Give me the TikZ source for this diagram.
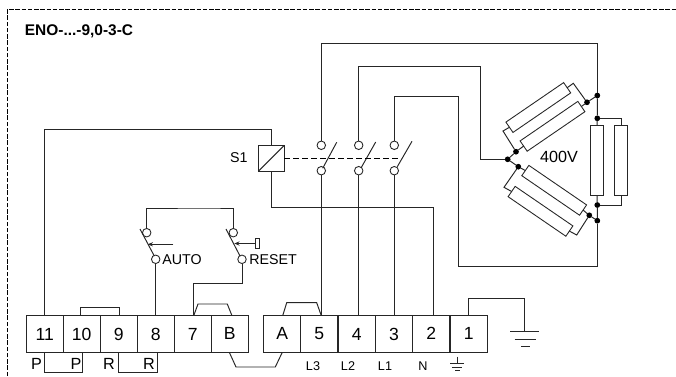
\documentclass[tikz,border=0pt]{standalone}
\usepackage{fontspec}
\setmainfont{Liberation Sans}
\usetikzlibrary{calc}
\usetikzlibrary{arrows.meta}
\newcommand{\lowdigit}[1]{\raisebox{-0.8pt}{#1}}
\newcommand{\highdigit}[1]{\raisebox{0.6pt}{#1}}
\tikzset{
    wire/.style={line width=0.55pt, draw=black!85},
    termbox/.style={draw=black!85, line width=0.6pt, minimum width=0.74cm, minimum height=0.732cm, inner sep=0pt, outer sep=0pt, font=\fontsize{10}{12}\selectfont},
    contact/.style={circle, draw=black!85, fill=white, line width=0.5pt, minimum size=0.17cm, inner sep=0pt, outer sep=0pt},
    joint/.style={circle, fill=black, minimum size=0.115cm, inner sep=0pt, outer sep=0pt},
    tube/.style={draw=black!85, fill=white, line width=0.5pt, minimum width=1.4cm, minimum height=0.25cm, inner sep=0pt, outer sep=0pt},
    lbl/.style={inner sep=0pt, font=\fontsize{8.1}{10}\selectfont},
    pin/.style={inner sep=0pt, font=\fontsize{9.2}{11}\selectfont},
    phase/.style={inner sep=0pt, font=\fontsize{7.2}{9}\selectfont}
}
\begin{document}
\begin{tikzpicture}[x=0.02cm, y=-0.02cm]
        \useasboundingbox (0,0) rectangle (676,376);

        % Frame, open at the right and at the bottom
        \coordinate (frameA) at (7,376);
        \coordinate (frameB) at (7,9.5);
        \coordinate (frameC) at (676,9.5);
        \draw[line width=0.5pt, dash pattern=on 0.09cm off 0.035cm] (frameA) -- (frameB) -- (frameC);
        \node[anchor=west, inner sep=0pt, font=\bfseries\fontsize{8.8}{10}\selectfont] (title) at (24.5,31) {ENO-...-9,0-3-C};

        % Terminal strip
        \node[termbox] (t11) at (44.7,334) {\lowdigit{11}};
        \node[termbox] (t10) at (81.7,334) {\lowdigit{10}};
        \node[termbox] (t9) at (118.7,334) {\lowdigit{9}};
        \node[termbox] (t8) at (155.8,334) {\lowdigit{8}};
        \node[termbox] (t7) at (192.8,334) {\lowdigit{7}};
        \node[termbox] (tB) at (229.7,334) {\highdigit{B}};
        \node[termbox] (tA) at (282.2,334) {\highdigit{A}};
        \node[termbox] (t5) at (319.3,334) {\lowdigit{5}};
        \node[termbox] (t4) at (356.7,334) {\lowdigit{4}};
        \node[termbox] (t3) at (394,334) {\lowdigit{3}};
        \node[termbox] (t2) at (431.3,334) {\highdigit{2}};
        \node[termbox] (t1) at (468.7,334) {\highdigit{1}};

        % Labels under the strip
        \node[pin] (p1) at (36.5,364) {P};
        \node[pin] (p2) at (76,364) {P};
        \node[pin] (r1) at (109,364) {R};
        \node[pin] (r2) at (149,364) {R};
        \node[phase] (l3) at (313,366) {L3};
        \node[phase] (l2) at (348,366) {L2};
        \node[phase] (l1) at (385,366) {L1};
        \node[phase] (ln) at (423,366) {N};

        % Loops under the strip
        \coordinate (pa) at (44.3,372.7);
        \coordinate (pb) at (82.7,372.7);
        \coordinate (ra) at (118.3,372.7);
        \coordinate (rb) at (157,372.7);
        \draw[wire] (pa |- t11.south) -- (pa) -- (pb) -- (pb |- t10.south);
        \draw[wire] (ra |- t9.south) -- (ra) -- (rb) -- (rb |- t8.south);

        % Links above and under the strip
        \draw[wire] ($(t10.north)+(-1.4,0)$) -- ++(0,-8.4) -| ($(t9.north)+(0.3,0)$);
        \draw[wire] (193.7,315.7) -- (198,304) -- (227.3,304) -- (232,315.7);
        \draw[wire] (229.3,352.3) -- (236,367) -- (275.3,367) -- (282.3,352.3);
        \draw[wire] (282.7,315.7) -- (286.7,302.7) -- (316.7,302.7) -- (321.3,315.7);

        % Coil and its feed
        \node[draw=black!85, line width=0.6pt, minimum size=0.52cm, inner sep=0pt, outer sep=0pt] (coil) at (271.3,158.3) {};
        \node[lbl, anchor=east] (s1) at (248,158) {S1};
        \draw[wire] (coil.south west) -- (coil.north east);
        \draw[wire] (t11.north) -- (t11.north |- 0,129) -| (coil.north);
        \draw[wire] (coil.south) |- (433,207.7) -- (433,315.7);

        % Main contacts
        \node[contact] (c3a) at (321.3,145.3) {};
        \node[contact] (c3b) at (321.3,170.7) {};
        \node[contact] (c2a) at (358.7,145.3) {};
        \node[contact] (c2b) at (358.7,170.7) {};
        \node[contact] (c1a) at (394.3,145.3) {};
        \node[contact] (c1b) at (394.3,170.7) {};
        \draw[wire] (322.7,168.3) -- (336.7,142.3);
        \draw[wire] (361,168) -- (375.7,142);
        \draw[wire] (397.3,166.7) -- (412,141.3);
        \draw[line width=0.5pt, dash pattern=on 0.12cm off 0.06cm] (coil.east) -- (399,158.3);
        \draw[wire] (c3b.south) -- (c3b |- t5.north);
        \draw[wire] (c2b.south) -- (c2b |- t4.north);
        \draw[wire] (c1b.south) -- (c1b |- t3.north);

        % Auto and reset switches
        \node[contact] (aut1) at (146.7,232.7) {};
        \node[contact] (aut2) at (155.7,259.3) {};
        \node[contact] (res1) at (233.3,232.7) {};
        \node[contact] (res2) at (242,259.3) {};
        \node[lbl, anchor=west] (auto) at (162,259.3) {AUTO};
        \node[lbl, anchor=west] (reset) at (249,259.3) {RESET};
        \draw[wire] (140,229) -- (154.3,256);
        \draw[wire] (226,229) -- (240,256);
        \draw[wire] (aut1.north) |- (208,208) -| (res1.north);
        \draw[wire] (aut2.south) -- (aut2 |- t8.north);
        \draw[wire] (res2.south) |- (193.7,283.3) -- (193.7,315.7);
        \node[draw=black!85, line width=0.5pt, minimum width=0.09cm, minimum height=0.19cm, inner sep=0pt, outer sep=0pt] (btn) at (257.2,243.5) {};
        \draw[wire, -{Stealth[length=3pt,width=2.4pt]}] (btn.west) -- (234.3,243.5);
        \draw[wire, -{Stealth[length=3pt,width=2.4pt]}] (173.3,244.3) -- (147.7,244.3);

        % Lamps
        \node[tube, rotate=34.4] (lampA) at (538.3,107.5) {};
        \node[tube, rotate=34.4] (lampB) at (552.5,126.3) {};
        \node[tube, rotate=-34.4] (lampC) at (554.2,190.3) {};
        \node[tube, rotate=-34.4] (lampD) at (540.5,211.3) {};
        \node[tube, rotate=90] (lampE) at (597,160.3) {};
        \node[tube, rotate=90] (lampF) at (621,160.3) {};
        \node[lbl, font=\fontsize{9.2}{11}\selectfont] (volt) at (559,156.7) {400V};

        % Lamp joints
        \node[joint] (ja) at (507.7,159.3) {};
        \node[joint] (jb) at (516,151.7) {};
        \node[joint] (jc) at (518.3,166.7) {};
        \node[joint] (jd) at (587,102.3) {};
        \node[joint] (je) at (597.3,95.5) {};
        \node[joint] (jf) at (597.3,118.3) {};
        \node[joint] (jg) at (597.3,205) {};
        \node[joint] (jh) at (597.3,220.7) {};
        \node[joint] (ji) at (589.3,215.3) {};

        % Lamp wiring
        \coordinate (bendA) at (503,131);
        \coordinate (bendB) at (573.3,83.3);
        \coordinate (bendC) at (504,187.3);
        \coordinate (bendD) at (576.7,235);
        \draw[wire] (ja) -- (jb) -- (lampB.west);
        \draw[wire] (jb) -- (bendA) -- (lampA.west);
        \draw[wire] (lampA.east) -- (bendB) -- (jd) -- (je);
        \draw[wire] (jd) -- (lampB.east);
        \draw[wire] (ja) -- (jc) -- (lampC.west);
        \draw[wire] (jc) -- (bendC) -- (lampD.west);
        \draw[wire] (lampD.east) -- (bendD) -- (ji) -- (jh);
        \draw[wire] (ji) -- (lampC.east);
        \draw[wire] (je) -- (jf) -- (lampE.east);
        \draw[wire] (lampE.west) -- (jg) -- (jh);
        \draw[wire] (jf) -| (lampF.east);
        \draw[wire] (lampF.west) |- (jg);

        % Feeds from the contacts to the lamps
        \draw[wire] (c3a.north) |- (597.3,43.7) -- (je);
        \draw[wire] (c2a.north) |- (480.7,66.7) |- (ja);
        \draw[wire] (c1a.north) |- (458.7,96) |- (597.3,266.3) -- (jh);

        % Earth symbols
        \coordinate (earth) at (524.7,331.3);
        \draw[wire] (t1.north) -- (t1.north |- 0,298.3) -| (earth);
        \draw[wire] (510,331.3) -- (538.7,331.3);
        \draw[wire] (514.7,339) -- (535.7,339);
        \draw[wire] (521.3,346) -- (530,346);
        \draw[wire] (457.3,356.7) -- (457.3,363.3);
        \draw[wire] (450,363.3) -- (464.3,363.3);
        \draw[wire] (452.3,367) -- (462.3,367);
        \draw[wire] (455,370.7) -- (460,370.7);
    \end{tikzpicture}
\end{document}
